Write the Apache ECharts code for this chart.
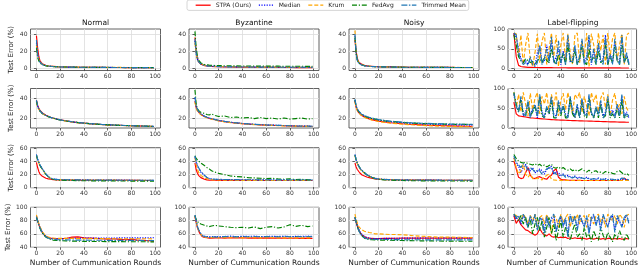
<!DOCTYPE html>
<html><head><meta charset="utf-8">
<script src="https://cdn.jsdelivr.net/npm/echarts@6/dist/echarts.min.js"></script>
<style>html,body{margin:0;padding:0;background:#fff}#c{width:640px;height:280px}</style>
</head><body><div id="c"></div>
<script>
// ---------------- data ----------------
const SERIES_NAMES = ['STPA (Ours)', 'Median', 'Krum', 'FedAvg', 'Trimmed Mean'];
const COL_TITLES = ['Normal', 'Byzantine', 'Noisy', 'Label-flipping'];
const X_NAME = 'Number of Cummunication Rounds';
const Y_NAME = 'Test Error (%)';
const X_TICKS = [0, 20, 40, 60, 80, 100];

// rounds at which values were read
const ROUNDS_SMOOTH = [0,1,2,3,4,5,6,8,10,12,14,17,20,25,30,35,40,45,50,55,60,65,70,75,80,85,90,95,99];
const ROUNDS_STEP2 = [0,2,4,6,8,10,12,14,16,18,20,22,24,26,28,30,32,34,36,38,40,42,44,46,48,50,52,54,56,58,60,62,64,66,68,70,72,74,76,78,80,82,84,86,88,90,92,94,96,98];

// y tick labels per row (cols 1-3) and label-flipping column
const Y_TICKS_R1 = [0, 20, 40];
const Y_TICKS_R1_LF = [0, 50, 100];
const Y_TICKS_R2 = [20, 40];
const Y_TICKS_R2_LF = [0, 50, 100];
const Y_TICKS_R3 = [0, 20, 40, 60];
const Y_TICKS_R4 = [40, 60, 80, 100];

// each panel: [STPA, Median, Krum, FedAvg, Trimmed Mean]
const r1_normal = [
 [38,24,14,9,7,5.5,4.6,3.6,3.0,2.7,2.5,2.2,2.0,1.8,1.7,1.6,1.5,1.5,1.4,1.4,1.3,1.3,1.3,1.2,1.2,1.2,1.1,1.1,1.1],
 [30,16,10,7,5.5,4.6,4,3.3,2.9,2.6,2.4,2.2,2.0,1.8,1.7,1.6,1.5,1.5,1.4,1.4,1.4,1.3,1.3,1.3,1.2,1.2,1.2,1.2,1.2],
 [27,15,10,7.5,6,5,4.3,3.5,3.1,2.8,2.5,2.3,2.1,1.9,1.8,1.7,1.6,1.6,1.5,1.5,1.4,1.4,1.4,1.3,1.3,1.3,1.3,1.2,1.2],
 [24,13,9,6.5,5.2,4.5,3.9,3.2,2.8,2.5,2.3,2.1,1.9,1.8,1.7,1.6,1.5,1.5,1.4,1.4,1.3,1.3,1.3,1.2,1.2,1.2,1.2,1.1,1.1],
 [33,17,11,7.5,6,5,4.2,3.4,3.0,2.7,2.4,2.2,2.0,1.8,1.7,1.6,1.5,1.5,1.4,1.4,1.4,1.3,1.3,1.3,1.2,1.2,1.2,1.2,1.1]
];
const r1_byzantine = [
 [36,20,12,8,6,5,4.3,3.5,3.0,2.7,2.5,2.3,2.1,1.9,1.8,1.7,1.6,1.5,1.5,1.4,1.4,1.4,1.3,1.3,1.3,1.2,1.2,1.2,1.2],
 [32,18,11,8,6.2,5.2,4.6,3.8,3.3,3.0,2.8,2.6,2.4,2.2,2.1,2.0,1.9,1.9,1.8,1.8,1.7,1.7,1.7,1.6,1.6,1.6,1.6,1.5,1.5],
 [30,17,11,8,6.5,5.5,4.8,4,3.5,3.1,2.9,2.6,2.4,2.2,2.1,2.0,1.9,1.8,1.8,1.7,1.7,1.7,1.6,1.6,1.6,1.6,1.5,1.5,1.5],
 [43,25,15,10,8,6.5,5.5,4.7,4.3,4.0,3.8,3.6,3.5,3.3,3.2,3.1,3.0,3.0,2.9,2.9,2.8,2.8,2.8,2.7,2.7,2.7,2.7,2.6,2.6],
 [34,18,11,8,6.2,5.2,4.5,3.7,3.2,2.9,2.7,2.5,2.3,2.1,2.0,1.9,1.8,1.8,1.7,1.7,1.6,1.6,1.6,1.5,1.5,1.5,1.5,1.4,1.4]
];
const r1_noisy = [
 [33,20,12,8,6.5,5.5,4.7,3.8,3.2,2.9,2.7,2.4,2.2,2.0,1.9,1.8,1.7,1.6,1.6,1.5,1.5,1.5,1.4,1.4,1.4,1.3,1.3,1.3,1.3],
 [38,18,10,7,5.5,4.6,4,3.3,2.9,2.6,2.4,2.2,2.0,1.9,1.8,1.7,1.6,1.6,1.5,1.5,1.5,1.4,1.4,1.4,1.4,1.3,1.3,1.3,1.3],
 [44,20,11,7.5,5.8,4.8,4.2,3.4,3.0,2.7,2.5,2.3,2.1,1.9,1.8,1.7,1.7,1.6,1.6,1.5,1.5,1.5,1.4,1.4,1.4,1.4,1.3,1.3,1.3],
 [36,17,10,7,5.5,4.6,4,3.3,2.9,2.6,2.4,2.2,2.0,1.9,1.8,1.7,1.6,1.6,1.5,1.5,1.4,1.4,1.4,1.4,1.3,1.3,1.3,1.3,1.3],
 [40,18,10,7,5.4,4.5,3.9,3.2,2.8,2.6,2.4,2.2,2.0,1.9,1.8,1.7,1.6,1.6,1.5,1.5,1.4,1.4,1.4,1.4,1.3,1.3,1.3,1.3,1.3]
];
const r1_labelflip = [
 [90,30,8,5,4,3.5,3,3,2.8,2.6,2.5,2.4,2.3,2.2,2.2,2.1,2.1,2,2,2,1.9,1.9,1.9,1.8,1.8,1.8,1.8,1.7,1.7,1.7,1.7,1.7,1.6,1.6,1.6,1.6,1.6,1.6,1.5,1.5,1.5,1.5,1.5,1.5,1.5,1.5,1.4,1.4,1.4,1.4],
 [88,80,50,25,15,20,10,25,15,8,40,55,15,20,60,20,70,15,30,50,10,45,20,80,15,25,55,15,20,70,15,30,80,10,45,20,60,15,25,85,10,40,15,70,25,15,80,20,35,15],
 [90,88,30,85,10,60,90,20,5,40,88,15,70,90,10,50,90,30,85,5,60,90,20,88,40,10,85,90,15,70,30,90,5,88,60,20,90,45,85,10,90,30,75,90,20,60,88,10,85,90],
 [85,60,30,20,15,25,20,15,18,10,20,25,15,30,20,15,50,20,10,35,15,40,10,60,20,15,45,10,25,55,15,10,50,20,30,10,45,15,20,60,10,30,15,55,20,10,60,15,30,10],
 [90,85,40,20,10,15,8,30,10,5,15,60,10,25,50,15,80,20,10,70,15,40,10,85,20,15,60,10,30,75,10,20,85,15,50,10,65,20,10,80,15,35,10,75,20,10,85,15,40,10]
];

const r2_normal = [
 [38,33,30,28,26.5,25.5,24.5,23.2,22.2,21.3,20.6,19.6,18.8,17.7,16.8,16.1,15.5,15,14.6,14.2,13.9,13.6,13.4,13.2,13,12.8,12.6,12.5,12.3],
 [37,32,29.5,27.5,26,25,24.2,23,22,21.1,20.4,19.5,18.7,17.6,16.8,16.1,15.5,15,14.6,14.2,13.9,13.7,13.4,13.2,13,12.8,12.7,12.5,12.4],
 [36,31,29,27,25.8,24.8,24,22.8,21.8,21,20.3,19.4,18.6,17.5,16.7,16,15.4,14.9,14.5,14.1,13.8,13.6,13.3,13.1,12.9,12.8,12.6,12.5,12.3],
 [37,32,29.2,27.2,25.9,24.9,24.1,22.9,21.9,21.1,20.4,19.4,18.6,17.6,16.8,16.1,15.5,15,14.6,14.2,13.9,13.6,13.4,13.2,13,12.8,12.7,12.5,12.4],
 [38,32.5,29.5,27.5,26,25,24.2,23,22,21.2,20.5,19.5,18.7,17.7,16.9,16.2,15.6,15.1,14.7,14.3,14,13.7,13.5,13.2,13,12.9,12.7,12.6,12.4]
];
const r2_byzantine = [
 [37,31,28,26.5,25,24,23.2,22,21,20.3,19.7,18.8,18,17,16.2,15.6,15,14.6,14.2,13.9,13.6,13.4,13.2,13,12.8,12.6,12.5,12.4,12.3],
 [40,32,29,27,25.5,24.5,23.6,22.3,21.3,20.5,19.9,19,18.2,17.2,16.4,15.8,15.2,14.8,14.4,14.1,13.8,13.6,13.4,13.2,13,12.8,12.7,12.6,12.5],
 [36,30,27.5,26,24.8,23.8,23,21.8,20.9,20.1,19.5,18.6,17.8,16.8,16.1,15.5,14.9,14.5,14.1,13.8,13.6,13.3,13.1,12.9,12.8,12.6,12.5,12.4,12.3],
 [48,35,30,28,27,26,25.5,25,24,23.5,24.5,23,22,22.5,21,21.5,20.5,21,20,21,20,20.5,19.5,20.5,19.5,20,20.5,19.5,20],
 [41,32,29,27,25.5,24.5,23.6,22.3,21.3,20.5,19.9,19,18.2,17.2,16.4,15.8,15.2,14.8,14.4,14.1,13.8,13.6,13.4,13.2,13,12.8,12.7,12.6,12.5]
];
const r2_noisy = [
 [37,31,28,26,24.5,23.5,22.7,21.5,20.5,19.7,19,18.2,17.5,16.6,15.9,15.4,14.9,14.5,14.2,13.9,13.6,13.4,13.2,13,12.9,12.7,12.6,12.5,12.4],
 [38,32,29,27,25.5,24.5,23.7,22.5,21.5,20.7,20,19.2,18.5,17.6,16.9,16.4,15.9,15.5,15.2,14.9,14.7,14.5,14.3,14.1,14,13.9,13.8,13.7,13.6],
 [36,31,28,26,24.5,23.5,22.5,21.2,20.2,19.4,18.7,17.9,17.2,16.2,15.5,15,14.5,14.1,13.7,13.4,13.1,12.9,12.7,12.5,12.4,12.2,12.1,12,11.9],
 [38,32,29,27,25.5,24.5,23.7,22.5,21.6,20.8,20.2,19.4,18.7,17.8,17.2,16.7,16.2,15.8,15.5,15.2,15,14.8,14.7,14.6,14.5,14.4,14.3,14.3,14.2],
 [39,32.5,29.5,27.5,26,25,24.2,23,22,21.2,20.6,19.8,19.1,18.2,17.5,17,16.5,16.1,15.8,15.5,15.3,15.1,15,14.8,14.7,14.6,14.5,14.4,14.4]
];
const r2_labelflip = [
 [65,35,30,29,28,27,26,25,24.5,24,23.5,23,22.5,22,21.5,21,20.5,20,19.8,19.5,19.2,19,18.7,18.5,18.2,18,17.8,17.6,17.4,17.2,17,16.8,16.6,16.4,16.2,16,15.8,15.6,15.4,15.2,15,14.8,14.6,14.5,14.3,14.2,14,13.9,13.8,13.7],
 [85,50,45,75,30,40,60,30,50,55,25,80,40,30,50,35,75,35,30,65,40,55,35,30,75,45,25,55,30,70,40,35,80,35,30,50,35,65,30,40,75,35,45,30,55,35,80,30,40,25],
 [90,50,85,40,90,60,30,88,45,75,90,35,80,60,90,40,85,55,90,30,70,88,45,90,60,35,85,75,90,40,80,55,30,90,65,85,40,75,90,50,85,30,70,88,45,60,35,80,50,40],
 [90,60,40,70,35,30,65,30,40,55,30,80,30,25,50,35,70,25,25,60,30,55,25,25,75,35,25,50,25,65,30,25,75,35,25,50,25,60,25,30,70,25,35,25,50,25,70,25,30,25],
 [88,55,40,80,35,30,70,25,45,60,30,85,35,25,55,40,80,30,25,70,35,60,30,25,80,40,30,60,25,75,35,30,85,40,25,55,30,70,25,35,80,30,40,25,60,30,85,25,35,30]
];

const r3_normal = [
 [38,30,24,20,18,16.5,15,13.5,12.5,12,11.5,11,11,10.8,10.7,10.6,10.5,10.5,10.4,10.4,10.3,10.3,10.3,10.2,10.2,10.2,10.1,10.1,10.1],
 [50,43,38,34,31,28,25,20,16,13.5,12.3,11.8,11.5,11.3,11.2,11,11,10.9,10.8,10.8,10.7,10.7,10.6,10.6,10.5,10.5,10.5,10.4,10.4],
 [49,42,37,33,30,27,24,19,15.5,13,12,11.6,11.4,11.2,11,10.9,10.8,10.8,10.7,10.7,10.6,10.6,10.5,10.5,10.5,10.4,10.4,10.4,10.3],
 [49,42,37,33,30,27,24,19.5,16,13,12,11,10.5,10.2,10,9.8,9.7,9.6,9.5,9.5,9.4,9.4,9.3,9.3,9.2,9.2,9.2,9.1,9.1],
 [50,43,38,34,31,28,25,20,16,13.5,12.3,11.8,11.5,11.3,11.1,11,10.9,10.8,10.7,10.7,10.6,10.6,10.5,10.5,10.5,10.4,10.4,10.4,10.3]
];
const r3_byzantine = [
 [37,27,22,18,16,14.5,13.5,12,11,10.7,10.5,10.4,10.3,10.3,10.2,10.2,10.2,10.1,10.1,10.1,10.1,10,10,10,10,10,10,10,10],
 [46,38,33,29,26,23,21,18,15,13,12.2,11.8,11.6,11.4,11.3,11.2,11.1,11.1,11,11,11,10.9,10.9,10.9,10.8,10.8,10.8,10.8,10.7],
 [45,35,28,23,20,18,16,14,13,12,11.5,11,10.8,10.6,10.5,10.4,10.3,10.3,10.2,10.2,10.2,10.1,10.1,10.1,10,10,10,10,10],
 [48,44,42,40,38,37,35,33,30,28,25,23,21,19,17,16,15.5,14.5,14,13.5,13,13.5,12.5,12,12.5,11.5,12,11,11],
 [48,40,34,30,27,24,22,18,15,13,12.3,12,11.8,11.6,11.5,11.4,11.3,11.2,11.2,11.1,11.1,11,11,11,10.9,10.9,10.9,10.8,10.8]
];
const r3_noisy = [
 [37,31,27,24,22,20,18.5,17,15.5,14.5,13.5,12.5,12,11.5,11.2,11,10.9,10.8,10.7,10.7,10.6,10.6,10.5,10.5,10.5,10.4,10.4,10.4,10.4],
 [50,42,37,33,30,27,25,22,19,17,15,13.5,12.5,11.8,11.5,11.2,11,10.9,10.8,10.7,10.7,10.6,10.6,10.5,10.5,10.5,10.4,10.4,10.4],
 [48,41,36,32,29,26,24,21,18.5,16.5,14.7,13.3,12.3,11.7,11.3,11.1,10.9,10.8,10.7,10.6,10.6,10.5,10.5,10.5,10.4,10.4,10.4,10.3,10.3],
 [49,42,37,33,30,27,25,22,19,17,15,13,12,11,10.5,10.2,10,9.8,9.7,9.6,9.5,9.5,9.4,9.4,9.3,9.3,9.3,9.2,9.2],
 [50,42,37,33,30,27,25,22,19,17,15,13.4,12.4,11.8,11.4,11.2,11,10.9,10.8,10.7,10.7,10.6,10.6,10.5,10.5,10.5,10.4,10.4,10.4]
];
const r3_labelflip = [
 [40,28,15,13,14,22,30,18,14,13,15,16,14,13,12,16,18,25,28,15,12,11,11,10.5,10.5,10.3,10.3,10.2,10.2,10.1,10.1,10,10,10,10,10,10,10,10,10,10,10,10,10,10,10,10,14,11,10],
 [45,36,32,22,30,35,28,25,30,22,24,28,25,20,27,30,32,20,24,22,18,20,17,18,16,15,17,14,15,14,13,15,13,12,13,12,14,12,12,13,11,12,12,11,12,11,13,12,11,11],
 [45,30,20,25,35,20,15,20,13,12,14,12,11,15,18,20,12,11,10.5,10.5,10.3,10.3,10.2,10.2,10,10,10,10,10,10,10,10,10,10,10,10,10,10,10,10,10,10,10,10,10,10,10,10,10,10],
 [50,44,40,38,37,38,36,35,34,36,33,35,32,34,31,33,35,30,29,31,28,30,27,26,28,25,27,24,26,28,25,23,26,22,24,25,22,23,21,24,22,23,21,20,24,25,22,19,21,18],
 [48,38,34,30,36,33,25,30,27,23,26,25,20,24,28,29,30,22,20,18,17,19,15,16,15,14,16,13,14,14,13,14,12,12,13,12,13,12,12,12,11,12,12,11,12,11,14,13,12,11]
];

const r4_normal = [
 [86,80,74,69,65,62,59.5,56,54.5,53.5,53,52.5,52.5,53,55,55.5,54,53.5,53,52.5,52,52.5,51.5,51,51.5,50.5,50,49.5,49],
 [87,81,75,70,66,62,60,56,54,53,52.5,52.5,52.8,53,53.2,53.3,53.5,53.5,53.6,53.6,53.7,53.7,53.8,53.8,53.8,53.9,53.9,54,54],
 [89,82,76,71,67,63,60.5,57,55,54,53.5,53.2,53,53,53,52.8,52.8,52.8,52.7,52.7,52.7,52.6,52.6,52.6,52.5,52.5,52.5,52.5,52.4],
 [85,79,73,68,64,61,58.5,55,53,51.5,50.5,50,49.6,49.3,49,48.8,48.6,48.5,48.4,48.3,48.2,48.2,48.1,48,48,48,48,47.8,47.8],
 [86,80,74,69,65,61.5,59,55.5,53.5,52.5,51.8,51.3,51,50.8,50.6,50.5,50.4,50.3,50.2,50.2,50.1,50.1,50,50,50,50,49.9,49.9,49.9]
];
const r4_byzantine = [
 [86,78,70,65,61,58,56,54.5,54,53.5,53.5,53.8,54,53.5,54,53.8,54,53.6,53.8,53.5,53.8,53.4,53.7,53.5,53.3,53.5,53.2,53.4,53.2],
 [88,80,72,67,63,60,58,56.5,56,55.5,55.5,56,55.5,56,56.5,55.8,56.2,56,56.5,55.8,56,56.3,56,56.4,55.8,56.2,56,56.5,56],
 [87,79,71,66,62,59,57,55,54.5,54,54.2,54.5,54,54.3,54,54.2,53.8,54.2,54,53.8,54,54.1,53.9,54,53.8,54,53.9,53.8,53.8],
 [88,82,79,77,76,75,74,73,72,71,72,73,72,71,70,69.5,70,69,70.5,68,70,71,69,70.5,74,71.5,73,71,72],
 [88,80,72,67,63,60,57.5,56,55.5,55,55.2,55.5,55,55.8,56,55.5,56,55.6,56,55.5,55.8,56,55.6,56.2,55.6,56,55.7,56,55.8]
];
const r4_noisy = [
 [84,78,72,67,63,60,58,55.5,54,53.5,53,52.8,52.8,53,53.2,53.3,53.4,53.5,53.5,53.6,53.6,53.6,53.6,53.6,53.6,53.6,53.6,53.6,53.5],
 [86,79,73,68,64,61,59,56,54.5,53.5,53,52.8,52.8,53,53.2,53.3,53.4,53.5,53.6,53.6,53.7,53.7,53.7,53.8,53.8,53.8,53.8,53.8,53.8],
 [90,82,77,72,69,67,66,64,63,62,61.5,60,60,59.5,59,59,58.5,58,57,56.5,56,55.5,55,55,55,54.8,54.8,54.5,54.5],
 [85,78,71,66,62,58.5,56,53.5,52,51.5,51,50.8,50.6,50.4,50.2,50,49.8,49.6,49.5,49.4,49.3,49.2,49.1,49,49,48.9,48.8,48.8,48.8],
 [85,78,71,66,62,59,56.5,54,52.5,52,51.8,51.6,51.5,51.4,51.3,51.2,51.1,51,51,51,50.9,50.9,50.9,50.8,50.8,50.8,50.8,50.8,50.8]
];
const r4_labelflip = [
 [88,76,82,74,70,66,65,62,60,58,60,68,62,58,57,60,56,55,56,54,55,54,55,53,54,53,54,53,53,53,53,52,53,53,52,53,53,52,53,52,53,53,52,53,52,53,52,52,53,52],
 [88,82,86,75,88,80,72,85,78,88,68,82,84,64,86,72,82,88,65,78,85,72,82,58,88,78,85,68,88,78,72,85,62,82,88,75,85,68,88,78,72,82,88,65,85,78,72,82,88,78],
 [90,88,85,80,90,85,75,88,80,90,70,85,88,75,90,80,60,88,85,70,90,78,85,90,70,88,80,90,75,85,88,70,90,82,75,88,90,78,85,70,90,85,80,88,75,90,85,70,88,90],
 [90,85,80,88,75,85,70,82,60,75,85,65,80,55,70,85,60,75,50,65,80,55,70,60,50,65,75,55,60,50,70,55,60,48,65,55,50,70,58,50,62,55,48,60,52,65,55,50,60,52],
 [90,85,88,78,90,82,70,88,75,90,65,85,80,60,88,70,85,90,62,80,88,70,85,55,90,75,88,65,90,80,70,88,60,85,90,72,88,65,90,80,70,85,90,62,88,80,70,85,90,75]
];

// ---------------- layout & styles ----------------
const PANELS = [
 {d:r1_normal, x:ROUNDS_SMOOTH, r:0,c:0, yr:[-2.2,45.7], yt:Y_TICKS_R1},
 {d:r1_byzantine, x:ROUNDS_SMOOTH, r:0,c:1, yr:[-2.2,45.7], yt:Y_TICKS_R1},
 {d:r1_noisy, x:ROUNDS_SMOOTH, r:0,c:2, yr:[-2.2,45.7], yt:Y_TICKS_R1},
 {d:r1_labelflip, x:ROUNDS_STEP2, r:0,c:3, yr:[-5,100], yt:Y_TICKS_R1_LF},
 {d:r2_normal, x:ROUNDS_SMOOTH, r:1,c:0, yr:[10.8,49.3], yt:Y_TICKS_R2},
 {d:r2_byzantine, x:ROUNDS_SMOOTH, r:1,c:1, yr:[10.8,49.3], yt:Y_TICKS_R2},
 {d:r2_noisy, x:ROUNDS_SMOOTH, r:1,c:2, yr:[10.8,49.3], yt:Y_TICKS_R2},
 {d:r2_labelflip, x:ROUNDS_STEP2, r:1,c:3, yr:[-1,100], yt:Y_TICKS_R2_LF},
 {d:r3_normal, x:ROUNDS_SMOOTH, r:2,c:0, yr:[-1,60.5], yt:Y_TICKS_R3},
 {d:r3_byzantine, x:ROUNDS_SMOOTH, r:2,c:1, yr:[-1,60.5], yt:Y_TICKS_R3},
 {d:r3_noisy, x:ROUNDS_SMOOTH, r:2,c:2, yr:[-1,60.5], yt:Y_TICKS_R3},
 {d:r3_labelflip, x:ROUNDS_STEP2, r:2,c:3, yr:[-1,60.5], yt:Y_TICKS_R3},
 {d:r4_normal, x:ROUNDS_SMOOTH, r:3,c:0, yr:[39.5,100.5], yt:Y_TICKS_R4},
 {d:r4_byzantine, x:ROUNDS_SMOOTH, r:3,c:1, yr:[39.5,100.5], yt:Y_TICKS_R4},
 {d:r4_noisy, x:ROUNDS_SMOOTH, r:3,c:2, yr:[39.5,100.5], yt:Y_TICKS_R4},
 {d:r4_labelflip, x:ROUNDS_STEP2, r:3,c:3, yr:[39.5,100.5], yt:Y_TICKS_R4}
];
const COL_LEFT = [30.5, 189, 349, 508];
const COL_W = 130;
const ROW_TOP = [29, 88.5, 147.7, 207.3];
const ROW_H = [41.5, 39.5, 40, 40];
const COLORS = ['#ff0000', '#0000ff', '#ffa500', '#008000', '#1f77b4'];
const DASHES = ['solid', [1.2, 1.4], [4, 2], [5, 1.8, 1.2, 1.8], [6, 1.5, 1.5, 1.5]];
const FONT = 'DejaVu Sans';

const grid = [], xAxis = [], yAxis = [], series = [], graphic = [];
PANELS.forEach((p, i) => {
  grid.push({left: COL_LEFT[p.c], top: ROW_TOP[p.r], width: COL_W, height: ROW_H[p.r],
    show: true, borderColor: '#3a3a3a', borderWidth: 0.8, backgroundColor: '#fff'});
  xAxis.push({gridIndex: i, type: 'value', min: -5, max: 104.5,
    name: p.r === 3 ? X_NAME : '', nameLocation: 'middle', nameGap: 12,
    nameTextStyle: {fontFamily: FONT, fontSize: 7.5, color: '#222'},
    axisLine: {show: false},
    axisTick: {show: true, length: 2.5, customValues: X_TICKS, lineStyle: {color: '#3a3a3a', width: 0.8}},
    axisLabel: {customValues: X_TICKS, fontFamily: FONT, fontSize: 6, color: '#333', margin: 3},
    splitLine: {show: true, lineStyle: {color: '#dcdcdc', width: 0.8}}});
  yAxis.push({gridIndex: i, type: 'value', min: p.yr[0], max: p.yr[1],
    name: p.c === 0 ? Y_NAME : '', nameLocation: 'middle', nameGap: 16, nameRotate: 90,
    nameTextStyle: {fontFamily: FONT, fontSize: 7, color: '#222'},
    axisLine: {show: false},
    axisTick: {show: true, length: 2.5, customValues: p.yt, lineStyle: {color: '#3a3a3a', width: 0.8}},
    axisLabel: {customValues: p.yt, fontFamily: FONT, fontSize: 6, color: '#333', margin: 3},
    splitLine: {show: true, lineStyle: {color: '#dcdcdc', width: 0.8}}});
  p.d.forEach((vals, k) => {
    series.push({name: SERIES_NAMES[k], type: 'line', xAxisIndex: i, yAxisIndex: i,
      data: vals.map((v, j) => [p.x[j], v]), symbol: 'none', showSymbol: false,
      animation: false, silent: true, z: 2 + k,
      lineStyle: {color: COLORS[k], width: 1.15, type: DASHES[k]},
      itemStyle: {color: COLORS[k]}});
  });
});
COL_TITLES.forEach((t, c) => {
  graphic.push({type: 'text', x: COL_LEFT[c] + COL_W / 2, y: 23,
    style: {text: t, fontFamily: FONT, fontSize: 7.5, fill: '#111', align: 'center', verticalAlign: 'middle'}});
});

const chart = echarts.init(document.getElementById('c'), null, {renderer: 'canvas'});
chart.setOption({
  animation: false,
  backgroundColor: '#fff',
  grid, xAxis, yAxis, series, graphic,
  legend: {data: SERIES_NAMES, left: 187, top: 0, itemWidth: 15, itemHeight: 8, itemGap: 7,
    padding: [2, 3, 2, 8], borderColor: '#cccccc', borderWidth: 0.8, borderRadius: 2,
    itemStyle: {opacity: 0},
    lineStyle: {width: 1.3},
    textStyle: {fontFamily: FONT, fontSize: 6, color: '#222'}}
});
</script></body></html>
